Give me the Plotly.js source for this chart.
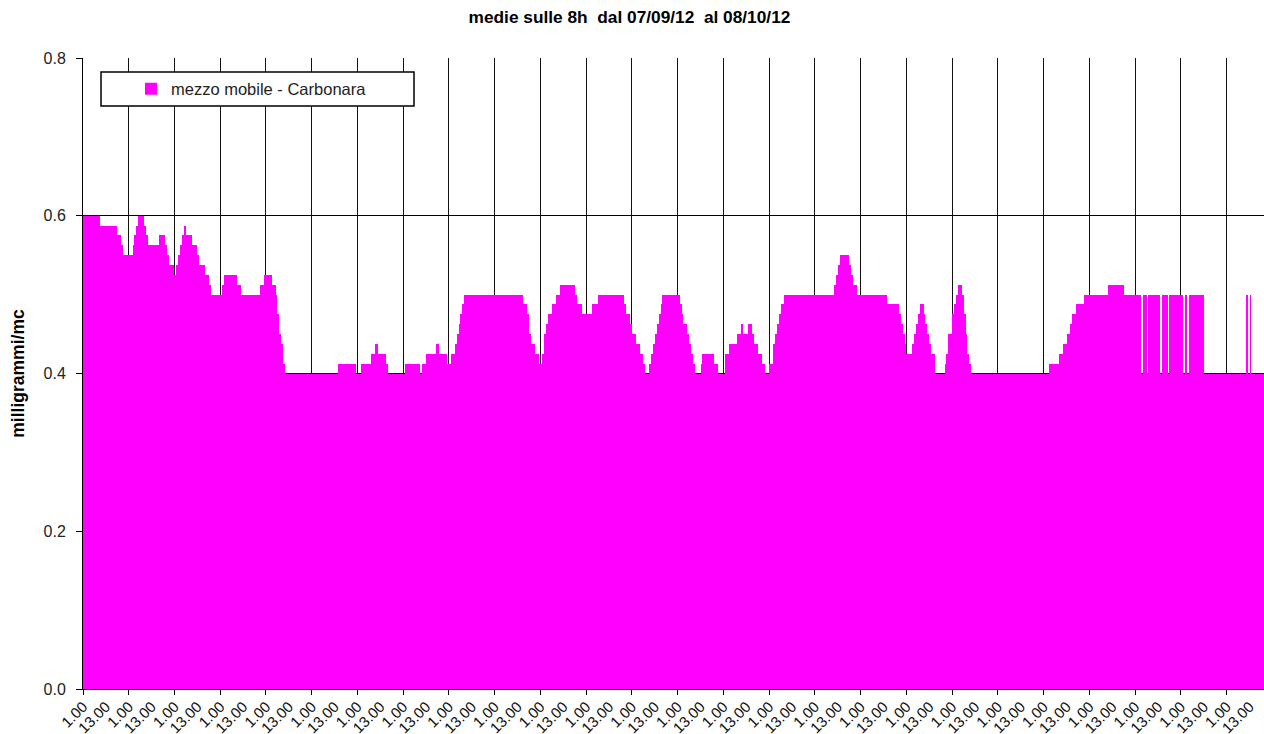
<!DOCTYPE html>
<html>
<head>
<meta charset="utf-8">
<script src="https://cdn.plot.ly/plotly-3.0.1.min.js"></script>
<style>
html,body{margin:0;padding:0;background:#fff;}
#chart{width:1264px;height:734px;}
</style>
</head>
<body>
<div id="chart"></div>
<script>
// 8-hour moving average, hourly values (mg/m3), one array per day starting at 1.00
const sep07 = [0.6,0.6,0.6,0.6,0.6,0.6,0.6,0.6,0.6,0.5875,0.5875,0.5875,0.5875,0.5875,0.5875,0.5875,0.5875,0.5875,0.575,0.575,0.5625,0.55,0.55,0.55];
const sep08 = [0.55,0.55,0.5625,0.575,0.5875,0.6,0.6,0.6,0.5875,0.575,0.5625,0.5625,0.5625,0.5625,0.5625,0.5625,0.575,0.575,0.575,0.5625,0.55,0.5375,0.5375,0.5375];
const sep09 = [0.525,0.5375,0.55,0.5625,0.575,0.5875,0.575,0.575,0.575,0.5625,0.5625,0.5625,0.55,0.5375,0.5375,0.5375,0.525,0.525,0.5125,0.5,0.5,0.5,0.5,0.5];
const sep10 = [0.5,0.5125,0.525,0.525,0.525,0.525,0.525,0.525,0.525,0.5125,0.5125,0.5,0.5,0.5,0.5,0.5,0.5,0.5,0.5,0.5,0.5,0.5125,0.5125,0.525];
const sep11 = [0.525,0.525,0.525,0.5125,0.5125,0.5,0.475,0.45,0.4375,0.4125,0.4,0.4,0.4,0.4,0.4,0.4,0.4,0.4,0.4,0.4,0.4,0.4,0.4,0.4];
const sep12 = [0.4,0.4,0.4,0.4,0.4,0.4,0.4,0.4,0.4,0.4,0.4,0.4,0.4,0.4,0.4125,0.4125,0.4125,0.4125,0.4125,0.4125,0.4125,0.4125,0.4125,0.4];
const sep13 = [0.4,0.4,0.4125,0.4125,0.4125,0.4125,0.4125,0.425,0.425,0.4375,0.4375,0.425,0.425,0.425,0.425,0.4125,0.4,0.4,0.4,0.4,0.4,0.4,0.4,0.4];
const sep14 = [0.4,0.4125,0.4125,0.4125,0.4125,0.4125,0.4125,0.4125,0.4125,0.4,0.4125,0.4125,0.425,0.425,0.425,0.425,0.425,0.4375,0.4375,0.425,0.425,0.425,0.425,0.4125];
const sep15 = [0.4125,0.425,0.425,0.4375,0.45,0.4625,0.475,0.4875,0.5,0.5,0.5,0.5,0.5,0.5,0.5,0.5,0.5,0.5,0.5,0.5,0.5,0.5,0.5,0.5];
const sep16 = [0.5,0.5,0.5,0.5,0.5,0.5,0.5,0.5,0.5,0.5,0.5,0.5,0.5,0.5,0.5,0.4875,0.4875,0.475,0.45,0.4375,0.4375,0.425,0.425,0.4125];
const sep17 = [0.4125,0.425,0.45,0.4625,0.475,0.475,0.4875,0.4875,0.5,0.5,0.5125,0.5125,0.5125,0.5125,0.5125,0.5125,0.5125,0.5125,0.5,0.4875,0.4875,0.4875,0.475,0.475];
const sep18 = [0.475,0.475,0.475,0.4875,0.4875,0.4875,0.5,0.5,0.5,0.5,0.5,0.5,0.5,0.5,0.5,0.5,0.5,0.5,0.5,0.5,0.4875,0.475,0.475,0.4625];
const sep19 = [0.45,0.45,0.4375,0.4375,0.425,0.425,0.4125,0.4,0.4,0.4125,0.425,0.4375,0.45,0.4625,0.475,0.4875,0.5,0.5,0.5,0.5,0.5,0.5,0.5,0.5];
const sep20 = [0.5,0.4875,0.475,0.4625,0.4625,0.45,0.4375,0.425,0.4125,0.4,0.4,0.4,0.4125,0.425,0.425,0.425,0.425,0.425,0.425,0.4125,0.4125,0.4,0.4,0.4];
const sep21 = [0.4,0.425,0.425,0.4375,0.4375,0.4375,0.4375,0.45,0.45,0.4625,0.45,0.45,0.45,0.4625,0.4625,0.45,0.4375,0.4375,0.425,0.425,0.4125,0.4125,0.4,0.4];
const sep22 = [0.4125,0.4125,0.4375,0.45,0.4625,0.475,0.4875,0.4875,0.5,0.5,0.5,0.5,0.5,0.5,0.5,0.5,0.5,0.5,0.5,0.5,0.5,0.5,0.5,0.5];
const sep23 = [0.5,0.5,0.5,0.5,0.5,0.5,0.5,0.5,0.5,0.5,0.5125,0.525,0.5375,0.55,0.55,0.55,0.55,0.55,0.5375,0.525,0.5125,0.5125,0.5,0.5];
const sep24 = [0.5,0.5,0.5,0.5,0.5,0.5,0.5,0.5,0.5,0.5,0.5,0.5,0.5,0.5,0.4875,0.4875,0.4875,0.4875,0.4875,0.4875,0.475,0.4625,0.45,0.4375];
const sep25 = [0.425,0.425,0.425,0.4375,0.45,0.4625,0.475,0.4875,0.4875,0.475,0.4625,0.45,0.4375,0.425,0.425,0.4,0.4,0.4,0.4,0.4,0.4125,0.425,0.45,0.45];
const sep26 = [0.475,0.4875,0.5,0.5125,0.5125,0.5,0.475,0.45,0.425,0.4125,0.4,0.4,0.4,0.4,0.4,0.4,0.4,0.4,0.4,0.4,0.4,0.4,0.4,0.4];
const sep27 = [0.4,0.4,0.4,0.4,0.4,0.4,0.4,0.4,0.4,0.4,0.4,0.4,0.4,0.4,0.4,0.4,0.4,0.4,0.4,0.4,0.4,0.4,0.4,0.4];
const sep28 = [0.4,0.4,0.4,0.4125,0.4125,0.4125,0.4125,0.4125,0.425,0.425,0.4375,0.4375,0.45,0.45,0.4625,0.475,0.475,0.4875,0.4875,0.4875,0.4875,0.5,0.5,0.5];
const sep29 = [0.5,0.5,0.5,0.5,0.5,0.5,0.5,0.5,0.5,0.5,0.5125,0.5125,0.5125,0.5125,0.5125,0.5125,0.5125,0.5125,0.5,0.5,0.5,0.5,0.5,0.5];
const sep30 = [0.5,0.5,0.5,0.4,0.5,0.5,0.4,0.5,0.5,0.5,0.5,0.5,0.5,0.4,0.5,0.5,0.5,0.4,0.5,0.5,0.5,0.5,0.5,0.5];
const oct01 = [0.5,0.4,0.5,0.4,0.5,0.5,0.5,0.5,0.5,0.5,0.5,0.5,0.4,0.4,0.4,0.4,0.4,0.4,0.4,0.4,0.4,0.4,0.4,0.4];
const oct02 = [0.4,0.4,0.4,0.4,0.4,0.4,0.4,0.4,0.4,0.4,0.5,0.4,0.5,0.4,0.4,0.4,0.4,0.4,0.4,0.4];

const hourLabels = ["1.00", "13.00"];
const yTicks = [0, 0.2, 0.4, 0.6, 0.8];
const seriesName = "mezzo mobile - Carbonara";
const chartTitle = "medie sulle 8h\u00A0\u00A0dal 07/09/12\u00A0\u00A0al 08/10/12";
const yTitle = "milligrammi/mc";

const days = [sep07,sep08,sep09,sep10,sep11,sep12,sep13,sep14,sep15,sep16,sep17,sep18,sep19,
              sep20,sep21,sep22,sep23,sep24,sep25,sep26,sep27,sep28,sep29,sep30,oct01,oct02];
const values = [].concat(...days);
const nHours = values.length;

const labelVals = [], labelText = [];
for (let h = 0; h < nHours; h += 12) { labelVals.push(h); labelText.push(hourLabels[(h / 12) % 2]); }
const dayTicks = [];
for (let h = 0; h < nHours; h += 24) dayTicks.push(h);

const FONT = '"Liberation Sans", Arial, sans-serif';
const xRange = [0, nHours - 0.4];

const trace = {
  type: 'bar',
  name: seriesName,
  y: values,
  x0: 0.5,
  dx: 1,
  marker: { color: '#FF00FF', line: { width: 0 } },
  showlegend: true,
  hoverinfo: 'y'
};
// same series on the label axis (transparent) so the hour labels axis is drawn
const labelTrace = {
  type: 'bar',
  y: values,
  x0: 0.5,
  dx: 1,
  xaxis: 'x2',
  marker: { color: 'rgba(0,0,0,0)', line: { width: 0 } },
  showlegend: false,
  hoverinfo: 'skip'
};

const layout = {
  width: 1264,
  height: 734,
  margin: { l: 83, r: 0, t: 58, b: 45 },
  paper_bgcolor: '#fff',
  plot_bgcolor: '#fff',
  bargap: 0,
  showlegend: true,
  font: { family: FONT, color: '#000' },
  title: {
    text: '<b>' + chartTitle + '</b>',
    font: { family: FONT, size: 17.3, color: '#000' },
    x: 0.498, xref: 'container', xanchor: 'center',
    y: 1 - 17 / 734, yref: 'container', yanchor: 'middle'
  },
  xaxis: {
    range: xRange,
    tickmode: 'array',
    tickvals: dayTicks,
    showticklabels: false,
    ticks: 'outside', ticklen: 5, tickwidth: 1, tickcolor: '#000',
    showgrid: true, gridcolor: '#111', gridwidth: 1,
    showline: true, linecolor: '#000', linewidth: 1,
    zeroline: false, fixedrange: true
  },
  xaxis2: {
    overlaying: 'x', anchor: 'y', side: 'bottom',
    range: xRange,
    tickmode: 'array',
    tickvals: labelVals,
    ticktext: labelText,
    tickangle: -45,
    ticks: '',
    ticklabelstandoff: 5,
    tickfont: { family: FONT, size: 15, color: '#111' },
    showgrid: false, showline: false, zeroline: false, fixedrange: true
  },
  yaxis: {
    range: [0, 0.8],
    tickmode: 'array',
    tickvals: yTicks,
    tickformat: '.1f',
    ticks: 'outside', ticklen: 6, tickwidth: 1, tickcolor: '#000',
    ticklabelstandoff: 7,
    tickfont: { family: FONT, size: 16, color: '#222' },
    showgrid: true, gridcolor: '#000', gridwidth: 1,
    showline: true, linecolor: '#000', linewidth: 1,
    zeroline: false, fixedrange: true,
    title: { text: '<b>' + yTitle + '</b>', font: { family: FONT, size: 17.5, color: '#000' }, standoff: 14 }
  },
  legend: {
    x: (131 - 83) / 1181, xanchor: 'left',
    y: (689 - 89) / 631, yanchor: 'middle',
    bgcolor: 'rgba(0,0,0,0)', borderwidth: 0,
    font: { family: FONT, size: 16.5, color: '#222' }
  },
  shapes: [{
    type: 'rect', xref: 'paper', yref: 'paper', layer: 'above',
    x0: (101 - 83) / 1181, x1: (414 - 83) / 1181,
    y0: (689 - 106) / 631, y1: (689 - 72) / 631,
    fillcolor: '#fff', line: { color: '#000', width: 1.5 }
  }]
};

Plotly.newPlot('chart', [trace, labelTrace], layout, { staticPlot: true, displayModeBar: false });
</script>
</body>
</html>
